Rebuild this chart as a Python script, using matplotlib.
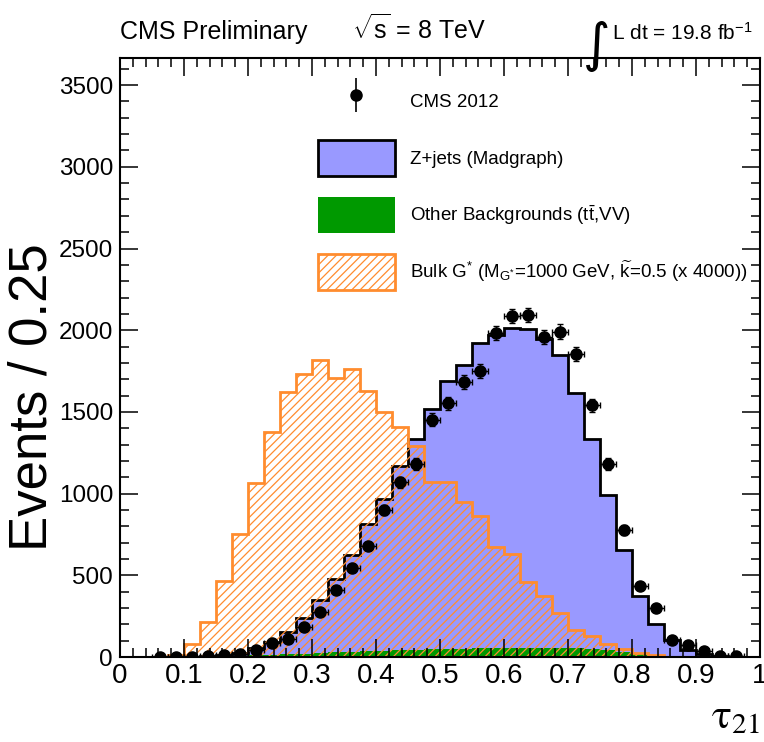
import numpy as np
import matplotlib
matplotlib.use("Agg")
import matplotlib.pyplot as plt
from matplotlib import font_manager
from matplotlib.lines import Line2D
from matplotlib.patches import Patch
from matplotlib.ticker import MultipleLocator, FuncFormatter

plt.rcParams['font.family'] = ['Liberation Sans', 'DejaVu Sans']
plt.rcParams['mathtext.fontset'] = 'custom'
plt.rcParams['mathtext.rm'] = 'Liberation Sans'
plt.rcParams['mathtext.it'] = 'Liberation Sans:italic'
plt.rcParams['mathtext.bf'] = 'Liberation Sans:bold'
plt.rcParams['hatch.linewidth'] = 0.9

# tau21 binning: 40 bins of 0.025 between 0 and 1
bin_edges = np.linspace(0.0, 1.0, 41)

# CMS 2012 data (events per bin)
data_counts = [0, 0, 2, 2, 3, 5, 12, 16, 43, 84,
               109, 183, 273, 412, 545, 678, 900, 1068, 1181, 1453,
               1554, 1683, 1749, 1984, 2087, 2093, 1960, 1991, 1855, 1540,
               1181, 777, 432, 299, 102, 75, 35, 8, 7, 0]

# Other backgrounds (tt, VV)
other_bkg = [0, 0, 0, 0, 0, 0, 3, 6, 10, 14,
             17, 21, 26, 29, 32, 35, 37, 40, 43, 46,
             49, 52, 54, 56, 57, 57, 57, 56, 53, 48,
             43, 32, 22, 13, 7, 3, 1, 0, 0, 0]

# Z+jets (Madgraph), stacked on top of the other backgrounds
zjets = [0, 0, 1, 2, 3, 6, 9, 19, 43, 80,
         133, 217, 325, 449, 595, 777, 933, 1130, 1292, 1473,
         1638, 1738, 1865, 1914, 1958, 1950, 1888, 1791, 1564, 1287,
         947, 622, 349, 188, 98, 42, 17, 6, 2, 0]

# Bulk G* signal, M=1000 GeV, k=0.5, scaled x4000
signal = [0, 0, 2, 10, 78, 213, 463, 754, 1064, 1375,
          1622, 1734, 1820, 1710, 1765, 1626, 1497, 1410, 1290, 1072,
          1072, 951, 863, 672, 633, 459, 375, 269, 166, 129,
          80, 47, 23, 10, 3, 1, 0, 0, 0, 0]

blue = '#9999ff'
green = '#009900'
orange = '#ff8c2e'
plt.rcParams['hatch.color'] = orange

fig = plt.figure(figsize=(7.64, 7.42), dpi=100)
ax = fig.add_axes([120 / 764, 85 / 742, 640 / 764, 599 / 742])

total = np.array(zjets) + np.array(other_bkg)
ax.stairs(total, bin_edges, fill=True, facecolor=blue, linewidth=0)
ax.stairs(other_bkg, bin_edges, fill=True, facecolor=green, linewidth=0)
ax.stairs(total, bin_edges, color='black', linewidth=2)
ax.stairs(signal, bin_edges, fill=True, facecolor='none', edgecolor=orange,
          hatch='////', linewidth=0)
ax.stairs(signal, bin_edges, color=orange, linewidth=2)

centers = 0.5 * (bin_edges[:-1] + bin_edges[1:])
counts = np.array(data_counts, dtype=float)
mask = counts > 0
ax.errorbar(centers[mask], counts[mask], xerr=0.0125, yerr=np.sqrt(counts[mask]),
            fmt='o', color='black', ms=8, elinewidth=1, capsize=2, capthick=1,
            zorder=5)

ax.set_xlim(0, 1)
ax.set_ylim(0, 3666)
ax.xaxis.set_major_locator(MultipleLocator(0.1))
ax.xaxis.set_minor_locator(MultipleLocator(0.02))
ax.yaxis.set_major_locator(MultipleLocator(500))
ax.yaxis.set_minor_locator(MultipleLocator(100))
ax.xaxis.set_major_formatter(FuncFormatter(lambda v, p: f'{v:g}'))
ax.tick_params(which='both', direction='in', top=True, right=True, width=1.1)
ax.tick_params(which='major', length=13)
ax.tick_params(which='minor', length=6.5)
ax.tick_params(axis='x', labelsize=20, pad=4)
ax.tick_params(axis='y', labelsize=17.5, pad=5)
for sp in ax.spines.values():
    sp.set_linewidth(1.5)

# keep the "1" at the right end inside the figure
fig.canvas.draw()
ax.get_xticklabels()[-1].set_horizontalalignment('right')

# the original y title is a narrow Helvetica; use a narrow face if there is one
installed = {f.name for f in font_manager.fontManager.ttflist}
if 'Liberation Sans Narrow' in installed:
    ax.set_ylabel('Events / 0.25', fontsize=40, family='Liberation Sans Narrow')
    ax.yaxis.set_label_coords(-0.11, 0.434)
else:
    ax.set_ylabel('Events / 0.25', fontsize=38)
    ax.yaxis.set_label_coords(-0.098, 0.434)
ax.set_xlabel(r'$\mathrm{\tau}_{21}$', fontsize=30, loc='right', math_fontfamily='stix')
ax.xaxis.set_label_coords(1.0, -0.068)

data_handle = (Line2D([], [], ls='none', marker='|', ms=24, mew=1.2, color='black'),
               Line2D([], [], ls='none', marker='o', ms=8, color='black'))
handles = [data_handle,
           Patch(facecolor=blue, edgecolor='black', linewidth=2),
           Patch(facecolor=green, edgecolor=green, linewidth=0),
           Patch(facecolor='none', edgecolor=orange, hatch='////', linewidth=2)]
labels = ['CMS 2012', 'Z+jets (Madgraph)', r'Other Backgrounds (t$\bar{\mathrm{t}}$,VV)',
          r'Bulk G$^{*}$ (M$_{\mathrm{G}^{*}}$=1000 GeV, $\widetilde{\mathrm{k}}$=0.5 (x 4000))']
ax.legend(handles, labels, loc='upper left', bbox_to_anchor=(0.309, 0.958),
          frameon=False, fontsize=13.5, handlelength=4.1, handleheight=2.6,
          labelspacing=1.1, handletextpad=0.8, borderpad=0, borderaxespad=0)

fig.text(120 / 764, 1 - 39 / 742, 'CMS Preliminary', fontsize=18, va='baseline')
fig.text(352 / 764, 1 - 39 / 742, r'$\sqrt{\mathrm{s}}$ = 8 TeV', fontsize=18, va='baseline')
fig.text(610 / 764, 1 - 46 / 742, '\u222b', fontsize=38, va='center', ha='right',
         family='DejaVu Sans')
fig.text(612 / 764, 1 - 40 / 742, r'L dt = 19.8 fb$^{\mathrm{-1}}$', fontsize=15,
         va='baseline')

fig.savefig('out.png', dpi=100)
